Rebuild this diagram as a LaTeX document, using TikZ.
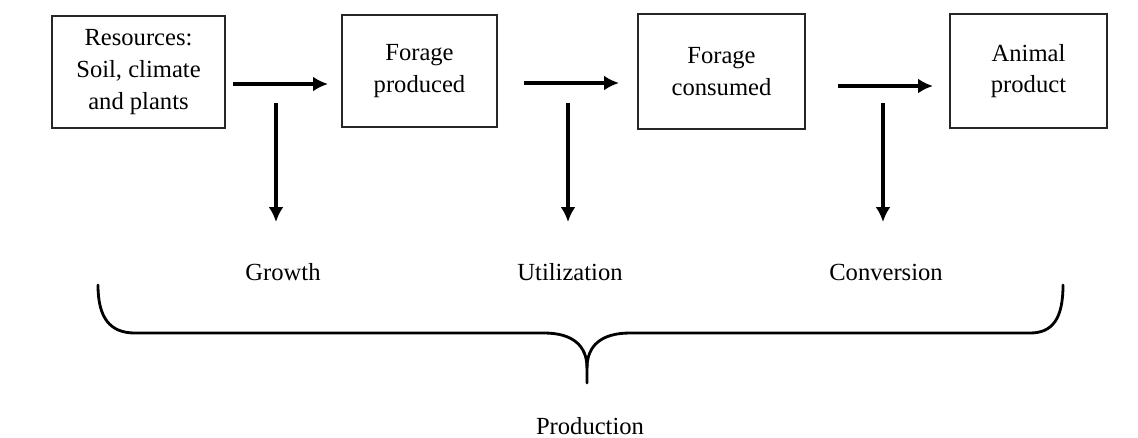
\documentclass[tikz,border=0pt]{standalone}
\usepackage{fontspec}
\setmainfont{Liberation Serif}
\usepackage{tikz}
\usetikzlibrary{arrows.meta, calc}

\tikzset{
  stagebox/.style={draw=black!85, line width=0.9pt, align=center, inner sep=0pt,
    font=\fontsize{14}{18}\selectfont},
  flow/.style={line width=1.8pt, -{Latex[length=8.5pt,width=8.5pt]}},
  lbl/.style={font=\fontsize{14}{17}\selectfont},
  bracket/.style={line width=1.6pt, line cap=round}
}

\begin{document}
\begin{tikzpicture}[x=0.02cm,y=-0.02cm]
  \useasboundingbox (0,0) rectangle (1138,437);
  \node[stagebox, minimum width=3.46cm, minimum height=2.24cm] (res) at (138.5,72) {Resources:\\Soil, climate\\and plants};
  \node[stagebox, minimum width=3.10cm, minimum height=2.24cm] (fprod) at (419.5,71) {Forage\\produced};
  \node[stagebox, minimum width=3.34cm, minimum height=2.30cm] (fcons) at (721.5,71.5) {Forage\\consumed};
  \node[stagebox, minimum width=3.14cm, minimum height=2.28cm] (animal) at (1028.5,71) {Animal\\product};
  % Processes
  \node[lbl] (growth) at (283,272) {Growth};
  \node[lbl] (util) at (570,272) {Utilization};
  \node[lbl] (conv) at (886,272) {Conversion};
  \node[lbl] (prod) at (590,426) {Production};
  %
  % Arrow ends:
  \coordinate (h1s) at (233,84);  \coordinate (h1e) at (328,84);
  \coordinate (h2s) at (524,83);  \coordinate (h2e) at (619,83);
  \coordinate (h3s) at (838,86);  \coordinate (h3e) at (933,86);
  \coordinate (v1s) at (276,103); \coordinate (v1e) at (276,222);
  \coordinate (v2s) at (568,103); \coordinate (v2e) at (568,222);
  \coordinate (v3s) at (883,103); \coordinate (v3e) at (883,222);
  \draw[flow] (h1s) -- (h1e);
  \draw[flow] (h2s) -- (h2e);
  \draw[flow] (h3s) -- (h3e);
  \draw[flow] (v1s) -- (v1e);
  \draw[flow] (v2s) -- (v2e);
  \draw[flow] (v3s) -- (v3e);
  %
  % Brace:
  \coordinate (tip) at (587,383);
  \draw[bracket] (98,285) .. controls (98,318) and (110,333) .. (135,333) -- (544,333)
    .. controls (572,333) and (587,345) .. (587,368) -- (tip);
  \draw[bracket] (587,368) .. controls (587,345) and (602,333) .. (630,333) -- (1030,333)
    .. controls (1053,333) and (1063,318) .. (1063,285);
\end{tikzpicture}
\end{document}
